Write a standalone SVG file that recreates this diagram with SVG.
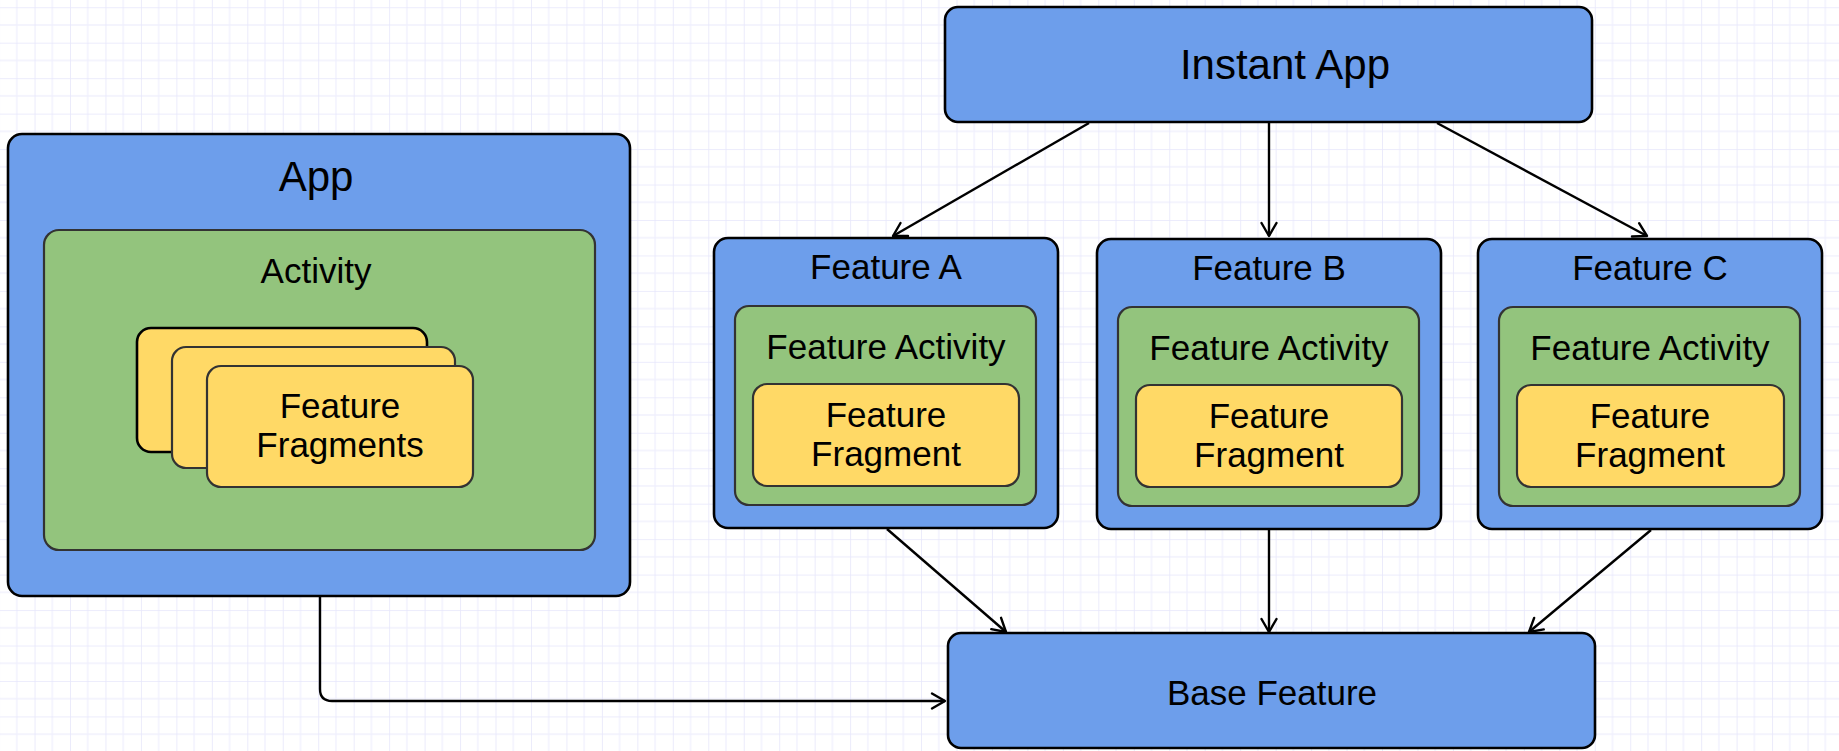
<svg xmlns="http://www.w3.org/2000/svg" width="1839" height="751" viewBox="0 0 1839 751">
  <defs>
    <pattern id="grid" x="-0.92" y="7.24" width="35.46" height="35.46" patternUnits="userSpaceOnUse">
      <line x1="17.73" y1="0" x2="17.73" y2="35.46" stroke="#f0f0fd" stroke-width="1.3"/>
      <line x1="0" y1="17.73" x2="35.46" y2="17.73" stroke="#f0f0fd" stroke-width="1.3"/>
      <line x1="0" y1="0" x2="0" y2="35.46" stroke="#e6e6fb" stroke-width="1.6"/>
      <line x1="0" y1="0" x2="35.46" y2="0" stroke="#e6e6fb" stroke-width="1.6"/>
    </pattern>
    <marker id="arrow" markerUnits="userSpaceOnUse" markerWidth="30" markerHeight="30" viewBox="-20 -15 30 30" refX="0" refY="0" orient="auto">
      <path d="M-13,-7.5 L0,0 L-13,7.5" fill="none" stroke="#000" stroke-width="2.4" stroke-linecap="round" stroke-linejoin="round"/>
    </marker>
  </defs>
  <style>
    .blue { fill: #6d9eeb; stroke: #000; stroke-width: 2.6; }
    .green { fill: #93c47d; stroke: #333; stroke-width: 2.2; }
    .yellow { fill: #ffd966; stroke: #333; stroke-width: 2.2; }
    .yellowback { fill: #ffd966; stroke: #000; stroke-width: 2.6; }
    text { font-family: "Liberation Sans", Arial, sans-serif; fill: #000; text-anchor: middle; }
    .big { font-size: 42px; }
    .mid { font-size: 35px; }
    .edge { fill: none; stroke: #000; stroke-width: 2.4; marker-end: url(#arrow); }
  </style>
  <rect x="0" y="0" width="1839" height="751" fill="#ffffff"/>
  <rect x="0" y="0" width="1839" height="751" fill="url(#grid)"/>

  <g id="connectors">
    <path class="edge" d="M1089,123 L893,236"/>
    <path class="edge" d="M1269,123 L1269,236"/>
    <path class="edge" d="M1437,123 L1647,236"/>
    <path class="edge" d="M887,529 L1006,632"/>
    <path class="edge" d="M1269,530 L1269,632"/>
    <path class="edge" d="M1651,530 L1529,632"/>
    <path class="edge" d="M320,597 V689 Q320,701 332,701 H945"/>
  </g>

  <g id="instant-app">
    <rect class="blue" x="945" y="7" width="647" height="115" rx="13"/>
    <text class="big" x="1285" y="79">Instant App</text>
  </g>

  <g id="app">
    <rect class="blue" x="8" y="134" width="622" height="462" rx="14"/>
    <text class="big" x="316" y="191">App</text>
    <g id="activity">
      <rect class="green" x="44" y="230" width="551" height="320" rx="15"/>
      <text class="mid" x="316" y="283">Activity</text>
      <g id="feature-fragments">
        <rect class="yellowback" x="137" y="328" width="290" height="124" rx="14"/>
        <rect class="yellow" x="172" y="347" width="283" height="121" rx="14"/>
        <rect class="yellow" x="207" y="366" width="266" height="121" rx="14"/>
        <text class="mid" x="340" y="418">Feature</text>
        <text class="mid" x="340" y="457">Fragments</text>
      </g>
    </g>
  </g>

  <g id="feature-a">
    <rect class="blue" x="714" y="238" width="344" height="290" rx="14"/>
    <text class="mid" x="886" y="279">Feature A</text>
    <rect class="green" x="735" y="306" width="301" height="199" rx="14"/>
    <text class="mid" x="886" y="359">Feature Activity</text>
    <rect class="yellow" x="753" y="384" width="266" height="102" rx="14"/>
    <text class="mid" x="886" y="427">Feature</text>
    <text class="mid" x="886" y="466">Fragment</text>
  </g>

  <g id="feature-b">
    <rect class="blue" x="1097" y="239" width="344" height="290" rx="14"/>
    <text class="mid" x="1269" y="280">Feature B</text>
    <rect class="green" x="1118" y="307" width="301" height="199" rx="14"/>
    <text class="mid" x="1269" y="360">Feature Activity</text>
    <rect class="yellow" x="1136" y="385" width="266" height="102" rx="14"/>
    <text class="mid" x="1269" y="428">Feature</text>
    <text class="mid" x="1269" y="467">Fragment</text>
  </g>

  <g id="feature-c">
    <rect class="blue" x="1478" y="239" width="344" height="290" rx="14"/>
    <text class="mid" x="1650" y="280">Feature C</text>
    <rect class="green" x="1499" y="307" width="301" height="199" rx="14"/>
    <text class="mid" x="1650" y="360">Feature Activity</text>
    <rect class="yellow" x="1517" y="385" width="267" height="102" rx="14"/>
    <text class="mid" x="1650" y="428">Feature</text>
    <text class="mid" x="1650" y="467">Fragment</text>
  </g>

  <g id="base-feature">
    <rect class="blue" x="948" y="633" width="647" height="115" rx="13"/>
    <text class="mid" x="1272" y="705">Base Feature</text>
  </g>
</svg>
